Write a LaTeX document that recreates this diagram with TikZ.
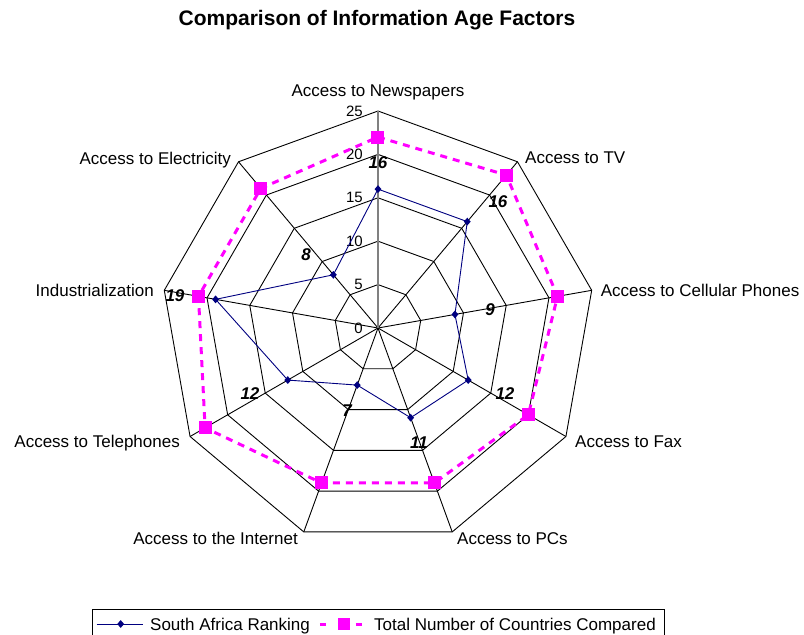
\documentclass[tikz,border=0pt]{standalone}
\usepackage{fontspec}
\setmainfont{Liberation Sans}
\usetikzlibrary{shapes.geometric}
\definecolor{navyc}{RGB}{0,0,128}
\definecolor{magc}{RGB}{255,0,255}
\begin{document}
\begin{tikzpicture}[x=1pt,y=1pt,
  gridline/.style={black, line width=0.9pt},
  axisline/.style={gray, line width=1.4pt},
  catlabel/.style={font=\fontsize{17}{20}\selectfont, inner sep=0pt},
  ticklabel/.style={font=\fontsize{15}{18}\selectfont, inner sep=0pt, anchor=east},
  datalabel/.style={font=\fontsize{17}{20}\selectfont\bfseries\itshape, inner sep=0pt},
  titlelabel/.style={font=\fontsize{21}{25}\selectfont\bfseries, inner sep=0pt},
  saline/.style={draw=navyc, line width=0.9pt},
  samark/.style={diamond, fill=navyc, inner sep=0pt, minimum width=7pt, minimum height=8pt},
  totline/.style={draw=magc, line width=3pt, dash pattern=on 7pt off 6pt},
  totmark/.style={rectangle, fill=magc, inner sep=0pt, minimum size=13pt},
  legendbox/.style={draw=black, line width=0.9pt},
]
\def\u{8.68}
\useasboundingbox (-378,-307) rectangle (426,328);
% title
\node[titlelabel, anchor=base] (title) at (-1,302) {Comparison of Information Age Factors};
% grid
\foreach \r in {5,10,15,20,25}{
  \draw[gridline] (90:\r*\u) -- (50:\r*\u) -- (10:\r*\u) -- (-30:\r*\u) -- (-70:\r*\u) -- (-110:\r*\u) -- (-150:\r*\u) -- (170:\r*\u) -- (130:\r*\u) -- cycle;
}
\foreach \a in {50,10,-30,-70,-110,-150,170,130}
  \draw[gridline] (0,0) -- (\a:25*\u);
\draw[axisline] (0,0) -- (90:25*\u);
% tick labels
\foreach \v in {0,5,10,15,20,25}
  \node[ticklabel] (tick\v) at (-15,\v*\u) {\v};
% category labels
\node[catlabel, anchor=base] (c1) at (0,231) {Access to Newspapers};
\node[catlabel, anchor=base west] (c2) at (147,164) {Access to TV};
\node[catlabel, anchor=base west] (c3) at (222.7,31.3) {Access to Cellular Phones};
\node[catlabel, anchor=base west] (c4) at (197,-119.7) {Access to Fax};
\node[catlabel, anchor=base west] (c5) at (79,-216) {Access to PCs};
\node[catlabel, anchor=base east] (c6) at (-80,-216) {Access to the Internet};
\node[catlabel, anchor=base east] (c7) at (-198,-119.7) {Access to Telephones};
\node[catlabel, anchor=base east] (c8) at (-224,31.3) {Industrialization};
\node[catlabel, anchor=base east] (c9) at (-147,163) {Access to Electricity};
% data coordinates
\foreach \a/\v/\n in {90/16/1, 50/16/2, 10/9/3, -30/12/4, -70/11/5, -110/7/6, -150/12/7, 170/19/8, 130/8/9}
  \coordinate (s\n) at (\a:\v*\u);
\foreach \a/\v/\n in {90/22/1, 50/23/2, 10/21/3, -30/20/4, -70/19/5, -110/19/6, -150/23/7, 170/21/8, 130/21/9}
  \coordinate (t\n) at (\a:\v*\u);
% series
\draw[saline] (s1) -- (s2) -- (s3) -- (s4) -- (s5) -- (s6) -- (s7) -- (s8) -- (s9) -- cycle;
\draw[totline] (t1) -- (t2) -- (t3) -- (t4) -- (t5) -- (t6) -- (t7) -- (t8) -- (t9) -- cycle;
\foreach \n in {1,...,9}{
  \node[samark] (sm\n) at (s\n) {};
  \node[totmark] (tm\n) at (t\n) {};
}
% data labels
\node[datalabel] (d1) at (0,165) {16};
\node[datalabel] (d2) at (120,126) {16};
\node[datalabel] (d3) at (112,18) {9};
\node[datalabel] (d4) at (127,-66) {12};
\node[datalabel] (d5) at (41,-115) {11};
\node[datalabel] (d6) at (-31,-83) {7};
\node[datalabel] (d7) at (-128,-66) {12};
\node[datalabel] (d8) at (-203,32) {19};
\node[datalabel] (d9) at (-72,73) {8};
% legend
\draw[legendbox] (-286,-308) -- (-286,-281) -- (286,-281) -- (286,-308);
\coordinate (la) at (-281.3,-296);
\coordinate (lb) at (-234.7,-296);
\draw[saline] (la) -- (lb);
\node[samark] (lsm) at (-257.3,-296) {};
\node[catlabel, anchor=base west] (lst) at (-228,-302) {South Africa Ranking};
\coordinate (lc) at (-58,-296);
\coordinate (ld) at (-14,-296);
\draw[draw=magc, line width=3pt, dash pattern=on 6.5pt off 11.5pt] (lc) -- (ld);
\node[totmark, minimum size=12pt] (ltm) at (-34,-296) {};
\node[catlabel, anchor=base west] (ltt) at (-4,-302) {Total Number of Countries Compared};
\end{tikzpicture}
\end{document}
